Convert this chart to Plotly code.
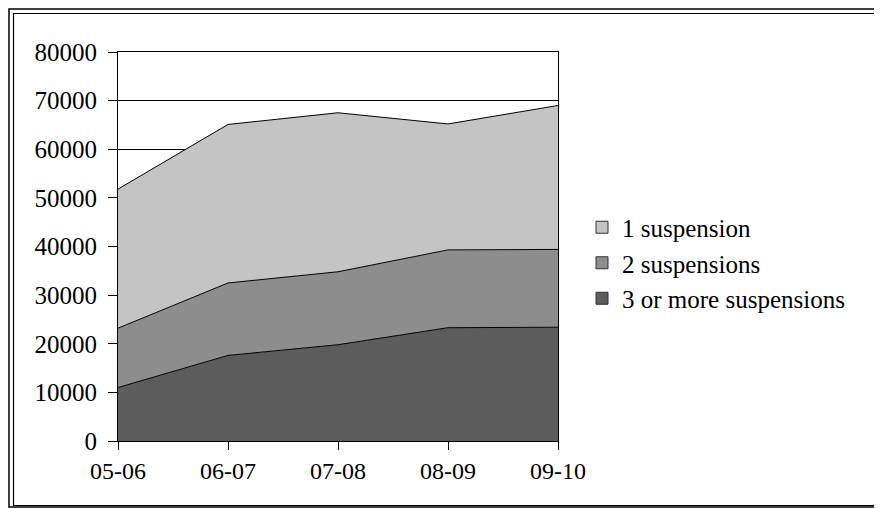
import plotly.graph_objects as go

years = ["05-06", "06-07", "07-08", "08-09", "09-10"]
three_plus = [11000, 17600, 19800, 23300, 23400]
two = [12200, 14900, 15000, 16000, 16000]
one = [28600, 32600, 32700, 25900, 29600]
series_names = ["3 or more suspensions", "2 suspensions", "1 suspension"]
y_ticks = [0, 10000, 20000, 30000, 40000, 50000, 60000, 70000, 80000]

colors = ["#5c5c5c", "#8d8d8d", "#c4c4c4"]
FONT = "Liberation Serif"

fig = go.Figure()
for name, vals, col in zip(series_names, [three_plus, two, one], colors):
    fig.add_trace(go.Scatter(
        x=years, y=vals, name=name, stackgroup="s", mode="lines",
        line=dict(color="black", width=1), fillcolor=col, showlegend=False,
    ))
# legend swatches
for name, col in zip(series_names, colors):
    fig.add_trace(go.Bar(x=[None], y=[None], name=name,
                         marker=dict(color=col, line=dict(color="#333", width=1))))

OFF = 8  # page body margin
L, R, T, B = 118 - OFF, 558 - OFF, 52 - OFF, 441 - OFF
W, H = 882 - OFF, 508 - OFF

def px(x):
    return (x - OFF - L) / (R - L)

def py(y):
    return (B - (y - OFF)) / (B - T)

shapes = [
    dict(type="rect", xref="paper", yref="paper", x0=px(9), x1=px(890), y0=py(9), y1=py(507),
         line=dict(color="black", width=1.5)),
    dict(type="rect", xref="paper", yref="paper", x0=px(13.5), x1=px(890), y0=py(13.5), y1=py(505.5),
         line=dict(color="black", width=1.2)),
]

fig.update_layout(
    width=W, height=H,
    margin=dict(l=L, r=W - R, t=T, b=H - B),
    paper_bgcolor="white", plot_bgcolor="white",
    font=dict(family=FONT, size=25, color="black"),
    showlegend=True,
    legend=dict(x=px(582), y=py(263), xanchor="left", yanchor="middle",
                traceorder="reversed", font=dict(size=25, family=FONT),
                bgcolor="rgba(0,0,0,0)", itemclick=False, tracegroupgap=0),
    shapes=shapes,
    xaxis=dict(type="category", range=[0, 4], showgrid=False, zeroline=False,
               showline=True, linecolor="black", linewidth=1, mirror=True,
               ticks="outside", ticklen=8, tickcolor="black",
               tickfont=dict(size=24, family=FONT)),
    yaxis=dict(range=[0, 80000], tickvals=y_ticks, showgrid=True, gridcolor="black",
               gridwidth=1, zeroline=False, showline=True, linecolor="black",
               linewidth=1, mirror=True, ticks="outside", ticklen=9, tickcolor="black",
               ticklabelstandoff=6,
               tickfont=dict(size=25, family=FONT), tickformat="d"),
)

fig.write_html("out.html")
